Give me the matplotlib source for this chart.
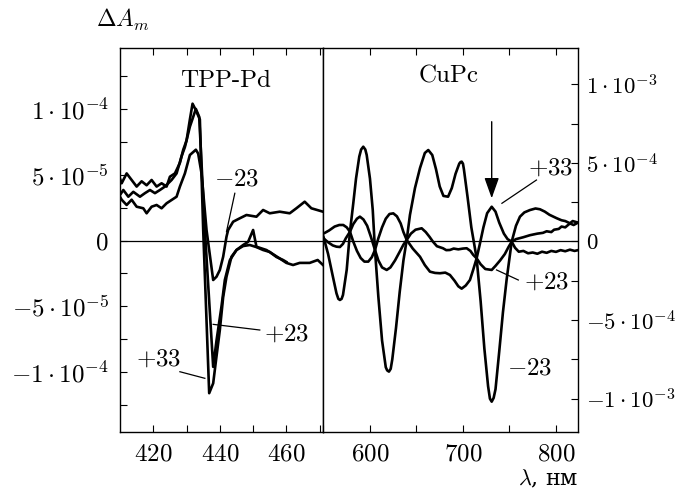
import matplotlib
matplotlib.use('Agg')
import matplotlib.pyplot as plt
from matplotlib.ticker import FixedLocator, MultipleLocator

plt.rcParams['mathtext.fontset'] = 'cm'
plt.rcParams['font.family'] = ['cmr10', 'DejaVu Serif']
plt.rcParams['axes.unicode_minus'] = False

# ---- TPP-Pd (left panel), values in units of 1e-5 ----
tpp_m23_x = [410, 410.5, 412, 413.5, 415, 417, 418, 419.5, 421, 422.5, 424, 425.5, 427, 428, 429.5,
             431, 432.8, 433.5, 434.5, 436, 438, 439, 440, 441, 442, 442.5, 444, 446, 448, 451,
             453, 455, 458, 461, 463, 465.5, 467.5, 471]
tpp_m23_y = [3.33, 3.1, 2.7, 3.1, 2.57, 2.45, 2.07, 2.57, 2.7, 2.45, 2.83, 3.08, 3.33, 4.1, 5.1,
             6.5, 6.9, 6.6, 5.1, 0.8, -3.0, -2.75, -2.24, -1.23, 0.29, 0.8, 1.43, 1.69, 1.94, 1.81,
             2.32, 2.07, 2.19, 2.07, 2.45, 2.95, 2.45, 2.19]

tpp_p23_x = [410, 411, 412.5, 414, 416, 417.5, 419, 420.5, 422, 423.5, 425.5, 427, 428.5, 429.5,
             431, 432.8, 433.8, 435.5, 438, 439, 440.5, 441.5, 443, 445, 447, 449, 451, 453,
             455, 457, 459, 460]
tpp_p23_y = [3.46, 3.84, 3.33, 3.7, 3.33, 3.6, 3.84, 3.6, 3.84, 4.1, 4.6, 5.1, 6.4, 7.1,
             8.65, 10.0, 9.4, 0.8, -9.6, -7.6, -5.0, -3.0, -1.5, -0.72, -0.42, -0.34, -0.5, -0.72,
             -0.87, -1.25, -1.48, -1.63]

tpp_p33_x = [410, 410.5, 412, 413.5, 415, 416.5, 418, 419.5, 421, 422.5, 424, 425, 426.5, 428,
             429, 430, 431, 431.8, 432.8, 434, 435, 436.8, 438, 439, 440, 441, 442, 443.5, 445,
             447, 448.5, 450, 451, 454, 457, 460, 462, 464, 467, 469.4, 471]
tpp_p33_y = [4.7, 4.35, 5.1, 4.6, 4.1, 4.5, 4.2, 4.6, 4.1, 4.35, 4.1, 4.85, 5.1, 5.9,
             6.9, 7.6, 9.2, 10.4, 9.9, 9.2, 0.8, -11.6, -10.85, -8.8, -6.8, -4.3, -2.75, -1.23, -0.72,
             -0.34, -0.1, 0.8, -0.47, -0.72, -1.2, -1.7, -1.86, -1.7, -1.7, -1.48, -1.86]

# ---- CuPc (right panel), values in units of 1e-4 ----
cupc_m23_x = [550, 555, 560, 564, 566, 567.7, 569.5, 571, 575, 578.5, 582, 585, 588.5, 590.5,
              592.8, 595, 596.5, 600, 603, 605.4, 609, 613, 617, 618.5, 620.4, 622.3, 624, 628,
              632, 636, 639.5, 643, 648.4, 653.8, 659, 662.7, 667, 671, 675, 679, 684, 688, 692,
              696, 697.3, 698.6, 700, 701, 705, 709, 714.7, 719, 723, 727, 729, 730.9, 733, 735,
              739, 743, 747, 752.4, 757, 761.3, 766, 772, 778, 782.8, 788, 793, 800.8, 806, 810,
              815, 818, 823.7]
cupc_m23_y = [0.3, -0.8, -2.2, -3.3, -3.65, -3.72, -3.65, -3.4, -1.8, 0.62, 2.4, 4.0, 5.4, 5.85,
              6.03, 5.85, 5.5, 4.0, 2.0, -0.54, -3.5, -6.3, -8.0, -8.2, -8.28, -8.1, -7.5, -5.5,
              -3.2, -1.2, 0.1, 1.69, 3.4, 4.67, 5.63, 5.82, 5.5, 4.6, 3.5, 2.9, 2.85, 3.4, 4.3,
              4.95, 5.05, 5.08, 4.95, 4.6, 2.8, 0.9, -1.07, -3.8, -6.8, -9.2, -10.0, -10.19, -9.95, -9.4,
              -7.0, -4.5, -2.4, -0.01, 1.0, 1.58, 1.85, 2.0, 2.1, 2.05, 1.9, 1.7, 1.48, 1.35, 1.3,
              1.16, 1.3, 1.2]

cupc_p33_x = [550, 556, 562, 567, 571.3, 575, 578.5, 582, 586, 590, 594, 598.2, 602, 605.4,
              609, 613, 617, 621, 625.1, 629, 633, 636, 639.5, 646, 653.8, 659, 664.5, 670,
              675.3, 681, 686, 691, 695, 698.6, 703, 707.5, 711, 714.7, 718, 722, 726, 730.9,
              735, 739, 744, 748, 752.4, 756, 760, 765, 770, 775, 780, 785, 790, 795, 800, 805,
              810, 815, 820, 823.7]
cupc_p33_y = [0.5, 0.7, 0.95, 1.05, 1.05, 0.9, 0.62, 0.0, -0.6, -1.05, -1.28, -1.28, -1.0, -0.54,
              0.2, 0.9, 1.45, 1.75, 1.79, 1.6, 1.15, 0.6, 0.1, -0.45, -0.97, -1.5, -1.92, -2.0,
              -2.02, -1.98, -2.13, -2.5, -2.85, -3.0, -2.8, -2.45, -1.8, -1.07, -0.2, 0.9, 1.8, 2.21,
              1.9, 1.2, 0.5, 0.15, -0.01, -0.4, -0.65, -0.6, -0.75, -0.7, -0.78, -0.65, -0.72, -0.6,
              -0.66, -0.55, -0.62, -0.52, -0.6, -0.55]

cupc_p23_x = [550, 555, 560, 564, 567.7, 571, 574, 578.5, 582, 586, 589.2, 593, 597, 601, 605.4,
              609, 613, 618, 622, 627, 632, 636, 639.5, 644, 649, 655.6, 660, 664, 667.7, 672,
              678.5, 682, 686, 690, 695, 700, 704, 708, 711, 714.7, 719, 724, 730.9, 735, 740,
              745, 749, 752.4, 757, 764.8, 772, 780, 786, 790, 795, 798, 803, 806, 810, 815,
              819, 823.7]
cupc_p23_y = [0.2, -0.05, -0.25, -0.33, -0.35, -0.15, 0.2, 0.62, 1.1, 1.45, 1.58, 1.4, 1.0, 0.3, -0.54,
              -1.2, -1.65, -1.81, -1.65, -1.2, -0.65, -0.2, 0.1, 0.5, 0.75, 0.84, 0.6, 0.3, -0.01, -0.3,
              -0.43, -0.55, -0.54, -0.45, -0.5, -0.45, -0.43, -0.6, -0.85, -1.07, -1.45, -1.75, -1.81, -1.55, -1.2,
              -0.8, -0.35, -0.01, 0.15, 0.27, 0.4, 0.5, 0.55, 0.65, 0.6, 0.75, 0.8, 0.95, 0.9, 1.15,
              1.05, 1.2]

left_ticks = [1e-4, 5e-5, 0, -5e-5, -1e-4]
left_labels = [r'$1\cdot10^{-4}$', r'$5\cdot10^{-5}$', r'$0$', r'$-5\cdot10^{-5}$', r'$-1\cdot10^{-4}$']
right_ticks = [1e-3, 5e-4, 0, -5e-4, -1e-3]
right_labels = [r'$1\cdot10^{-3}$', r'$5\cdot10^{-4}$', r'$0$', r'$-5\cdot10^{-4}$', r'$-1\cdot10^{-3}$']

LW = 1.9
TS = 18     # tick label size
LS = 18     # annotation size

fig = plt.figure(figsize=(6.84, 4.9), dpi=100)
ax1 = fig.add_axes([120/684, 1-432/490, (323-120)/684, 384/490])
ax2 = fig.add_axes([323/684, 1-432/490, (578-323)/684, 384/490])

# left panel
for xs, ys in [(tpp_m23_x, tpp_m23_y), (tpp_p23_x, tpp_p23_y), (tpp_p33_x, tpp_p33_y)]:
    ax1.plot(xs, [v*1e-5 for v in ys], color='k', lw=LW, solid_joinstyle='round')
ax1.axhline(0, color='k', lw=0.9)
ax1.set_xlim(410, 471)
ax1.set_ylim(-1.455e-4, 1.463e-4)
ax1.xaxis.set_major_locator(FixedLocator([420, 440, 460]))
ax1.xaxis.set_minor_locator(FixedLocator([430, 450, 470]))
ax1.set_xticklabels([r'$420$', r'$440$', r'$460$'])
ax1.yaxis.set_major_locator(FixedLocator(left_ticks))
ax1.set_yticklabels(left_labels)
ax1.yaxis.set_minor_locator(MultipleLocator(2.5e-5))
ax1.tick_params(which='both', direction='in', length=5, width=0.8, top=True, right=False,
                labelsize=TS, pad=8)

ax1.text(441.8, 1.216e-4, 'TPP-Pd', fontsize=LS, ha='center', va='center')
ax1.text(445, 4.67e-5, r'$-23$', fontsize=LS, ha='center', va='center')
ax1.plot([444.5, 442], [3.59e-5, 0.67e-5], color='k', lw=0.9)
ax1.text(460.1, -7.18e-5, r'$+23$', fontsize=LS, ha='center', va='center')
ax1.plot([438, 452], [-6.37e-5, -6.8e-5], color='k', lw=0.9)
ax1.text(421.7, -9.08e-5, r'$+33$', fontsize=LS, ha='center', va='center')
ax1.plot([428, 435.5], [-9.97e-5, -10.47e-5], color='k', lw=0.9)

# right panel
for xs, ys in [(cupc_m23_x, cupc_m23_y), (cupc_p33_x, cupc_p33_y), (cupc_p23_x, cupc_p23_y)]:
    ax2.plot(xs, [v*1e-4 for v in ys], color='k', lw=LW, solid_joinstyle='round')
ax2.axhline(0, color='k', lw=0.9)
ax2.set_xlim(549.5, 823.7)
ax2.set_ylim(-1.212e-3, 1.231e-3)
ax2.xaxis.set_major_locator(FixedLocator([600, 700, 800]))
ax2.xaxis.set_minor_locator(FixedLocator([550, 650, 750]))
ax2.set_xticklabels([r'$600$', r'$700$', r'$800$'])
ax2.yaxis.set_major_locator(FixedLocator(right_ticks))
ax2.set_yticklabels(right_labels)
ax2.yaxis.set_minor_locator(MultipleLocator(2.5e-4))
ax2.yaxis.tick_right()
ax2.tick_params(which='both', direction='in', length=5, width=0.8, top=True, left=False,
                right=True, labelsize=TS, pad=8)
ax2.tick_params(axis='y', labelsize=16.5, pad=6)

ax2.text(685, 10.5e-4, 'CuPc', fontsize=LS, ha='center', va='center')
ax2.annotate('', xy=(730.9, 2.75e-4), xytext=(730.9, 7.62e-4),
             arrowprops=dict(arrowstyle='-|>,head_length=0.7,head_width=0.25', color='k',
                             lw=1.0, mutation_scale=18, shrinkA=0, shrinkB=0))
ax2.text(794.6, 4.67e-4, r'$+33$', fontsize=LS, ha='center', va='center')
ax2.plot([779, 741.9], [3.91e-4, 2.43e-4], color='k', lw=0.9)
ax2.text(790.3, -2.64e-4, r'$+23$', fontsize=LS, ha='center', va='center')
ax2.plot([736.1, 759.5], [-1.81e-4, -2.45e-4], color='k', lw=0.9)
ax2.text(772, -8.05e-4, r'$-23$', fontsize=LS, ha='center', va='center')

for ax in (ax1, ax2):
    for s in ax.spines.values():
        s.set_linewidth(1.0)

fig.text(123/684, 1-20/490, r'$\Delta A_m$', fontsize=17, ha='center', va='center')
fig.text(578/684, 1-479/490, r'$\lambda$, нм', fontsize=16, ha='right', va='center',
         family='DejaVu Serif')

fig.savefig('out.png', dpi=100)
